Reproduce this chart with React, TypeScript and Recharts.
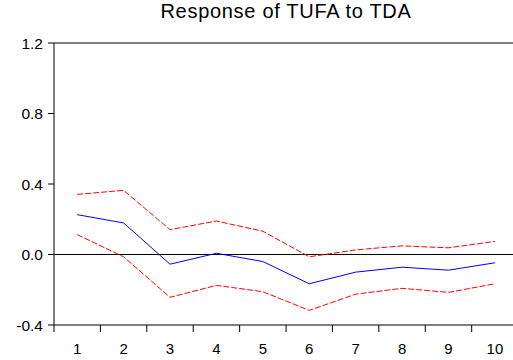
import React from 'react';
import {
  LineChart,
  Line,
  XAxis,
  YAxis,
  ReferenceLine,
} from 'recharts';

const periods     = [1, 2, 3, 4, 5, 6, 7, 8, 9, 10];
const response    = [0.226, 0.179, -0.055, 0.007, -0.04, -0.166, -0.1, -0.072, -0.089, -0.047];
const upperBand   = [0.341, 0.364, 0.141, 0.19, 0.132, -0.013, 0.026, 0.049, 0.038, 0.074];
const lowerBand   = [0.113, -0.013, -0.243, -0.175, -0.211, -0.317, -0.225, -0.192, -0.215, -0.166];
const yTicks      = [-0.4, 0, 0.4, 0.8, 1.2];
const title       = 'Response of TUFA to TDA';

const FONT = '"Liberation Sans", Arial, sans-serif';
const BLUE = '#0000ff';
const RED  = '#ff0000';

const data = periods.map((p, i) => ({
  period: p,
  response: response[i],
  upper: upperBand[i],
  lower: lowerBand[i],
}));

// tick marks sit on the boundaries between periods
const boundaryTicks = periods.map((p) => p - 0.5);
// the original frame is cut by the image edge a little before period 10.5
const X_DOMAIN: [number, number] = [0.5, 10.39];

export default function App() {
  return (
    <div style={{ position: 'absolute', left: 0, top: 0, width: 513, height: 360, background: '#fff' }}>
      <svg width={513} height={30} style={{ position: 'absolute', left: 0, top: 0 }}>
        <text x={286} y={18} textAnchor="middle" fontFamily={FONT} fontSize={20} letterSpacing={0.7} fill="#000">
          {title}
        </text>
      </svg>
      <LineChart
        width={513}
        height={360}
        data={data}
        margin={{ top: 43, right: 0, left: 0, bottom: 0 }}
      >
        {/* tick marks on period boundaries */}
        <XAxis
          xAxisId="a"
          dataKey="period"
          type="number"
          domain={X_DOMAIN}
          ticks={boundaryTicks}
          tick={() => <g />}
          tickSize={7}
          height={35}
          stroke="#000"
          tickLine={{ stroke: '#000' }}
          axisLine={{ stroke: '#000' }}
          interval={0}
        />
        {/* labels centred on each period; mirrored axis sits inside the plot, text pushed below it */}
        <XAxis
          xAxisId="b"
          dataKey="period"
          type="number"
          domain={X_DOMAIN}
          ticks={periods}
          axisLine={false}
          tickLine={false}
          tickSize={0}
          tickMargin={-28.5}
          height={35}
          mirror
          tick={{ fill: '#000', fontSize: 15, fontFamily: FONT }}
          interval={0}
        />
        {/* top frame line */}
        <XAxis
          xAxisId="top"
          orientation="top"
          dataKey="period"
          type="number"
          domain={X_DOMAIN}
          ticks={[]}
          tick={false}
          tickLine={false}
          height={1}
          mirror
          stroke="#000"
        />
        <YAxis
          domain={[-0.4, 1.2]}
          ticks={yTicks}
          width={54}
          tickSize={6}
          tickMargin={5}
          stroke="#000"
          tickFormatter={(v: number) => v.toFixed(1)}
          tick={{ fill: '#000', fontSize: 15.5, fontFamily: FONT }}
          interval={0}
        />
        <ReferenceLine xAxisId="a" y={0} stroke="#000" strokeWidth={1} />
        <Line
          xAxisId="a"
          dataKey="upper"
          stroke={RED}
          strokeWidth={1}
          strokeDasharray="6 2"
          dot={false}
          isAnimationActive={false}
        />
        <Line
          xAxisId="a"
          dataKey="lower"
          stroke={RED}
          strokeWidth={1}
          strokeDasharray="6 2"
          dot={false}
          isAnimationActive={false}
        />
        <Line
          xAxisId="a"
          dataKey="response"
          stroke={BLUE}
          strokeWidth={1}
          dot={false}
          isAnimationActive={false}
        />
      </LineChart>
    </div>
  );
}
